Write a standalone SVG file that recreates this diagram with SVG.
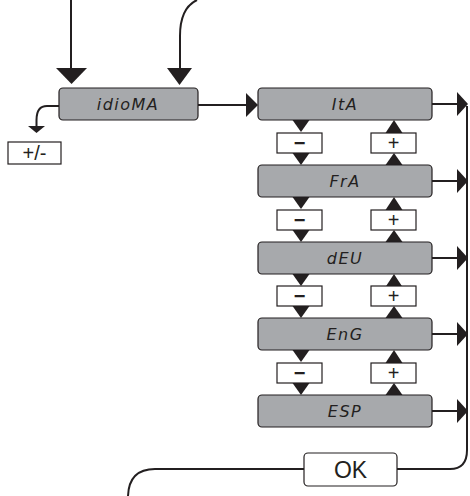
<svg xmlns="http://www.w3.org/2000/svg" width="470" height="496" viewBox="0 0 470 496">
<style>
.ln{fill:none;stroke:#231f20;stroke-width:2}
.hd{fill:#231f20}
.disp{fill:#a7a9ac;stroke:#231f20;stroke-width:1.2}
.key{fill:#fff;stroke:#231f20;stroke-width:1.2}
.dt{font-family:"DejaVu Sans",sans-serif;font-style:italic;font-size:16px;fill:#231f20;text-anchor:middle;letter-spacing:1.5px}
.kt{font-family:"Liberation Sans",Arial,sans-serif;font-size:20px;fill:#231f20;text-anchor:middle}
.mk{font-weight:bold}
</style>
<rect width="470" height="496" fill="#fff"/>
<g id="connectors">
<path class="ln" d="M71 0 V70"/>
<polygon class="hd" points="56,68 87,68 71.5,84"/>
<path class="ln" d="M197 0 Q180 8 180 36 V70"/>
<polygon class="hd" points="167,68 192,68 179.5,85"/>
<path class="ln" d="M59 106 H47 Q36.5 106 36.5 120 V127"/>
<polygon class="hd" points="28,126 45,126 36.5,133"/>
<path class="ln" d="M198 105 H248"/>
<polygon class="hd" points="246,93 258,105 246,117"/>
<path class="ln" d="M432 104 H458"/><polygon class="hd" points="457,92 468,104 457,116"/>
<path class="ln" d="M432 181 H458"/><polygon class="hd" points="457,169 468,181 457,193"/>
<path class="ln" d="M432 258 H458"/><polygon class="hd" points="457,246 468,258 457,270"/>
<path class="ln" d="M432 334 H458"/><polygon class="hd" points="457,322 468,334 457,346"/>
<path class="ln" d="M432 411 H458"/><polygon class="hd" points="457,399 468,411 457,423"/>
<path class="ln" d="M467 106 V450 Q467 469 450 469 H397"/>
<path class="ln" d="M304 469 H155 Q129 469 128 496"/>
<g id="steps" class="hd">
<polygon points="292.5,120 309.5,120 301,132"/><polygon points="292.5,153 309.5,153 301,165"/>
<polygon points="394,120 385.5,133 402.5,133"/><polygon points="394,153 385.5,165 402.5,165"/>
<polygon points="292.5,197 309.5,197 301,209"/><polygon points="292.5,230 309.5,230 301,242"/>
<polygon points="394,197 385.5,210 402.5,210"/><polygon points="394,230 385.5,242 402.5,242"/>
<polygon points="292.5,274 309.5,274 301,286"/><polygon points="292.5,306 309.5,306 301,318"/>
<polygon points="394,274 385.5,287 402.5,287"/><polygon points="394,306 385.5,318 402.5,318"/>
<polygon points="292.5,350 309.5,350 301,362"/><polygon points="292.5,383 309.5,383 301,395"/>
<polygon points="394,350 385.5,363 402.5,363"/><polygon points="394,383 385.5,395 402.5,395"/>
</g>
</g>
<g id="idioma"><rect class="disp" x="59" y="88" width="139" height="32" rx="4"/><text class="dt" x="128" y="110">idioMA</text></g>
<g id="pm"><rect class="key" x="8" y="142" width="53" height="22"/><text class="kt" x="34.5" y="160">+/-</text></g>
<g id="ita"><rect class="disp" x="258" y="88" width="174" height="32" rx="4"/><text class="dt" x="345" y="110">ItA</text></g>
<g id="fra"><rect class="disp" x="258" y="165" width="174" height="32" rx="4"/><text class="dt" x="345" y="187">FrA</text></g>
<g id="deu"><rect class="disp" x="258" y="242" width="174" height="32" rx="4"/><text class="dt" x="345" y="264">dEU</text></g>
<g id="eng"><rect class="disp" x="258" y="318" width="174" height="32" rx="4"/><text class="dt" x="345" y="340">EnG</text></g>
<g id="esp"><rect class="disp" x="258" y="395" width="174" height="32" rx="4"/><text class="dt" x="345" y="417">ESP</text></g>
<g id="minus1"><rect class="key" x="277" y="133" width="45" height="20"/><text class="kt mk" x="299.5" y="150">−</text></g>
<g id="plus1"><rect class="key" x="371" y="133" width="45" height="20"/><text class="kt" x="393.5" y="150">+</text></g>
<g id="minus2"><rect class="key" x="277" y="210" width="45" height="20"/><text class="kt mk" x="299.5" y="227">−</text></g>
<g id="plus2"><rect class="key" x="371" y="210" width="45" height="20"/><text class="kt" x="393.5" y="227">+</text></g>
<g id="minus3"><rect class="key" x="277" y="286" width="45" height="20"/><text class="kt mk" x="299.5" y="303">−</text></g>
<g id="plus3"><rect class="key" x="371" y="286" width="45" height="20"/><text class="kt" x="393.5" y="303">+</text></g>
<g id="minus4"><rect class="key" x="277" y="363" width="45" height="20"/><text class="kt mk" x="299.5" y="380">−</text></g>
<g id="plus4"><rect class="key" x="371" y="363" width="45" height="20"/><text class="kt" x="393.5" y="380">+</text></g>
<g id="ok"><rect class="key" x="304" y="453" width="93" height="33" rx="4"/><text class="kt" x="350.5" y="478" style="font-size:23px">OK</text></g>
</svg>
